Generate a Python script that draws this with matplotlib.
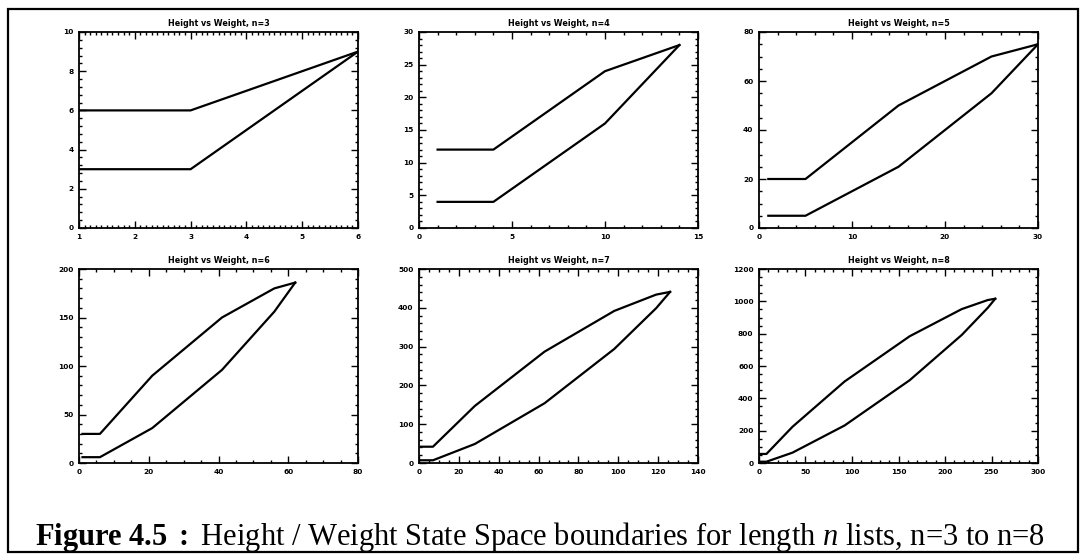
import matplotlib
matplotlib.use("Agg")
import matplotlib.pyplot as plt
from matplotlib.patches import Rectangle
from matplotlib.ticker import MultipleLocator, AutoMinorLocator

plt.rcParams['mathtext.fontset'] = 'custom'
plt.rcParams['mathtext.rm'] = 'Liberation Serif'
plt.rcParams['mathtext.it'] = 'Liberation Serif:italic'
plt.rcParams['mathtext.bf'] = 'Liberation Serif:bold'

# weight (x) and the lower / upper height boundary (y) for each list length n
n3_weight = [1, 3, 6]
n3_low = [3, 3, 9]
n3_high = [6, 6, 9]

n4_weight = [1, 4, 10, 14]
n4_low = [4, 4, 16, 28]
n4_high = [12, 12, 24, 28]

n5_weight = [1, 5, 15, 25, 30]
n5_low = [5, 5, 25, 55, 75]
n5_high = [20, 20, 50, 70, 75]

n6_weight = [1, 6, 21, 41, 56, 62]
n6_low = [6, 6, 36, 96, 156, 186]
n6_high = [30, 30, 90, 150, 180, 186]

n7_weight = [1, 7, 28, 63, 98, 119, 126]
n7_low = [7, 7, 49, 154, 294, 399, 441]
n7_high = [42, 42, 147, 287, 392, 434, 441]

n8_weight = [1, 8, 36, 92, 162, 218, 246, 254]
n8_low = [8, 8, 64, 232, 512, 792, 960, 1016]
n8_high = [56, 56, 224, 504, 784, 952, 1008, 1016]

panels = [
    (3, n3_weight, n3_low, n3_high, (1, 6), (0, 10), 1, 2, 10, 5),
    (4, n4_weight, n4_low, n4_high, (0, 15), (0, 30), 5, 5, 5, 5),
    (5, n5_weight, n5_low, n5_high, (0, 30), (0, 80), 10, 20, 5, 4),
    (6, n6_weight, n6_low, n6_high, (0, 80), (0, 200), 20, 50, 4, 5),
    (7, n7_weight, n7_low, n7_high, (0, 140), (0, 500), 20, 100, 4, 5),
    (8, n8_weight, n8_low, n8_high, (0, 300), (0, 1200), 50, 200, 5, 4),
]

W, H = 1080, 556
fig = plt.figure(figsize=(W / 100, H / 100), dpi=100)

col_left = [79, 419, 759]
row_top = [32, 269]
row_bottom = [228, 463]
ax_w = 279

for i, (n, wx, lo, hi, xl, yl, xmaj, ymaj, xmin, ymin) in enumerate(panels):
    r, c = divmod(i, 3)
    left = col_left[c] / W
    bottom = 1 - row_bottom[r] / H
    height = (row_bottom[r] - row_top[r]) / H
    ax = fig.add_axes([left, bottom, ax_w / W, height])
    ax.plot(wx, lo, color='black', lw=1.6)
    ax.plot(wx, hi, color='black', lw=1.6)
    ax.set_xlim(*xl)
    ax.set_ylim(*yl)
    ax.xaxis.set_major_locator(MultipleLocator(xmaj))
    ax.yaxis.set_major_locator(MultipleLocator(ymaj))
    ax.xaxis.set_minor_locator(AutoMinorLocator(xmin))
    ax.yaxis.set_minor_locator(AutoMinorLocator(ymin))
    ax.tick_params(which='both', direction='in', top=True, right=True,
                   width=1.0, labelsize=5.3, pad=4)
    ax.tick_params(which='major', length=5)
    ax.tick_params(which='minor', length=2.5)
    for lab in ax.get_xticklabels() + ax.get_yticklabels():
        lab.set_fontweight('bold')
    for sp in ax.spines.values():
        sp.set_linewidth(1.3)
    ax.set_title(f'Height vs Weight, n={n}', fontsize=5.8,
                 fontweight='bold', pad=4)

# page frame
frame = Rectangle((8 / W, 1 - 552 / H), 1070 / W, 543 / H,
                  transform=fig.transFigure, fill=False,
                  edgecolor='black', lw=1.6)
fig.add_artist(frame)

fig.text(0.5, 1 - 545 / H,
         r'$\mathbf{Figure\ 4.5\ :}$ Height / Weight State Space boundaries '
         r'for length $\mathit{n}$ lists, n=3 to n=8',
         family='Liberation Serif', fontsize=22, ha='center', va='baseline')

fig.savefig('out.png', dpi=100)
